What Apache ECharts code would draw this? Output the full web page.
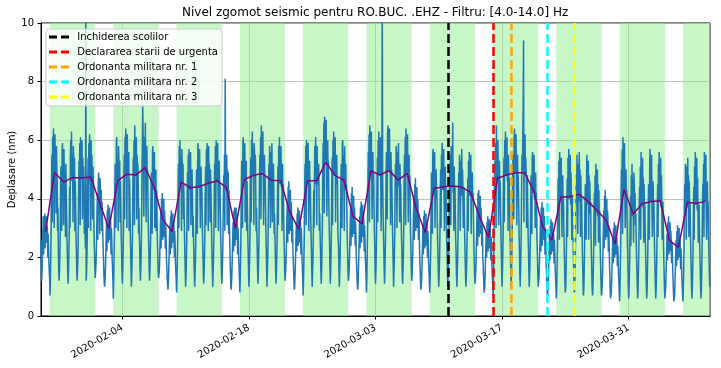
<!DOCTYPE html>
<html><head><meta charset="utf-8">
<script src="https://cdn.jsdelivr.net/npm/echarts@6/dist/echarts.min.js"></script>
<style>html,body{margin:0;padding:0;background:#fff}#c{width:721px;height:368px}</style>
</head><body><div id="c"></div>
<script>
// ---------------- data ----------------
const startDate = '2020-01-26';
const endDate = '2020-04-09';
const tickDates = ['2020-02-04', '2020-02-18', '2020-03-03', '2020-03-17', '2020-03-31'];
const yTicks = [0, 2, 4, 6, 8, 10];
// displacement (nm), hourly (UTC 00..23), one row per day starting 2020-01-26
const noiseByDay = [
  [2.6,1.4,1.2,1.6,2.2,2.9,3.4,2.1,3.3,2.8,3.5,2.3,3.2,3.0,3.4,2.5,3.1,2.9,2.0,2.8,2.4,1.8,1.5,1.2],
  [0.7,1.3,2.1,3.0,4.6,5.5,3.2,6.1,5.0,6.4,4.8,3.0,5.7,6.2,4.9,5.3,3.5,5.8,5.0,4.6,2.9,3.7,2.3,1.6],
  [1.2,1.5,2.0,2.8,4.3,5.1,4.5,2.9,5.6,5.9,4.4,5.3,3.1,5.7,4.6,5.0,4.4,2.7,5.2,4.2,3.4,2.6,2.1,1.5],
  [1.1,1.5,2.1,2.9,4.4,3.0,5.4,6.0,4.8,6.3,4.6,5.5,4.9,3.2,5.8,5.2,4.7,5.4,2.9,4.6,3.6,2.7,2.2,1.5],
  [1.2,1.6,2.0,2.8,4.5,5.3,4.6,5.9,3.1,6.1,4.7,5.6,4.9,6.0,3.3,5.4,4.8,5.1,4.4,2.8,3.7,2.9,2.3,10.6],
  [1.2,1.5,2.1,2.9,4.4,5.4,3.0,5.9,4.9,6.2,4.6,5.3,2.9,6.0,4.8,5.5,4.7,3.3,5.1,4.5,3.5,2.7,2.2,1.6],
  [1.3,1.5,1.8,2.3,3.0,3.8,4.2,2.6,4.6,4.9,3.9,4.4,2.8,4.7,4.1,3.7,4.3,2.9,3.9,3.4,2.8,2.3,1.9,1.4],
  [1.1,1.0,1.2,1.6,2.1,2.7,3.2,2.2,3.6,3.1,3.8,2.5,3.5,3.3,3.7,2.6,3.4,3.1,2.1,3.0,2.6,1.9,1.6,1.2],
  [0.6,1.2,2.0,2.8,4.4,5.2,4.6,3.0,5.9,6.1,4.6,5.4,4.8,2.9,5.8,5.0,4.6,5.3,3.2,4.6,3.6,2.7,2.2,1.5],
  [1.1,1.5,2.1,3.0,4.6,5.5,3.3,6.1,5.0,6.4,4.8,5.7,3.0,6.2,4.9,5.4,4.8,5.6,2.9,4.7,3.8,2.9,2.3,1.6],
  [1.0,1.5,2.1,2.9,4.5,5.4,4.8,6.0,3.1,6.5,4.8,5.6,5.0,6.1,3.3,5.5,4.9,5.2,4.6,2.8,3.7,2.8,2.3,1.6],
  [1.2,1.6,2.2,3.1,4.8,5.7,7.2,6.3,5.2,3.4,5.0,6.1,5.3,6.6,4.9,3.2,5.2,5.8,4.8,5.0,3.9,3.0,2.4,1.7],
  [1.2,1.5,2.0,2.7,4.1,4.9,4.3,2.8,5.6,5.8,4.3,5.2,4.5,5.6,3.0,4.9,4.4,5.0,2.9,4.3,3.4,2.6,2.1,1.5],
  [1.3,1.3,1.5,1.9,2.5,3.2,3.6,2.3,4.0,3.4,4.2,2.6,3.8,3.5,4.0,2.7,3.6,3.3,2.3,3.1,2.7,2.0,1.7,1.3],
  [1.1,0.9,1.1,1.5,2.0,2.6,3.1,2.1,3.4,3.0,3.6,2.3,3.3,3.1,3.5,2.5,3.2,3.0,2.0,2.9,2.5,1.8,1.5,1.2],
  [0.8,1.3,2.0,2.8,4.3,5.2,3.0,5.8,4.7,6.0,4.5,5.4,4.7,2.9,5.7,5.1,4.6,5.2,3.3,4.5,3.5,2.7,2.1,1.5],
  [1.0,1.4,1.9,2.7,4.1,4.9,4.3,5.5,2.9,5.7,4.3,5.2,4.5,5.6,3.1,4.9,4.4,5.0,4.1,2.7,3.4,2.6,2.0,1.4],
  [1.0,1.4,1.9,2.7,4.1,5.0,4.2,2.8,5.4,5.9,4.4,5.3,4.5,5.7,4.2,3.0,4.5,5.1,4.0,4.4,3.3,2.6,2.1,1.4],
  [1.1,1.5,2.0,2.8,4.2,5.1,3.1,5.7,4.6,5.9,4.5,5.4,2.9,5.8,4.6,5.2,4.5,3.2,5.0,4.4,3.5,2.7,2.1,1.5],
  [1.0,1.5,2.0,2.8,4.3,5.2,4.5,5.8,3.0,6.0,4.6,5.5,4.7,5.9,4.4,2.9,4.7,5.3,4.2,4.5,3.5,2.7,2.2,1.5],
  [1.1,1.4,1.9,2.6,4.0,4.8,4.2,5.5,2.9,8.1,4.3,5.2,4.5,5.5,3.1,5.0,4.4,4.9,2.8,4.3,3.3,2.6,2.0,1.4],
  [1.0,0.9,1.2,1.6,2.1,2.7,3.2,2.2,3.6,3.1,3.7,2.4,3.5,3.3,3.7,2.6,3.3,3.1,2.1,3.0,2.6,1.9,1.6,1.2],
  [0.8,1.3,2.0,2.9,4.4,5.3,4.6,3.0,5.9,6.1,4.6,5.5,4.8,5.9,3.2,5.1,4.7,5.3,2.9,4.6,3.6,2.8,2.2,1.5],
  [1.0,1.5,2.1,3.0,4.5,5.4,3.2,6.0,4.9,6.3,4.8,5.7,5.0,3.1,5.9,5.4,4.8,5.5,4.5,2.9,3.7,2.9,2.3,1.6],
  [1.1,1.5,2.1,3.0,4.6,5.5,4.8,6.1,3.3,6.5,4.9,5.8,5.0,6.3,4.8,3.1,4.9,5.5,4.6,4.8,3.8,2.9,2.3,1.6],
  [1.0,1.5,2.0,2.8,4.3,5.2,4.5,5.8,4.7,3.0,4.6,5.6,4.8,5.9,3.2,5.2,4.6,5.2,4.3,2.8,3.5,2.7,2.2,1.5],
  [1.1,1.5,2.0,2.8,4.3,5.1,3.1,5.8,4.7,6.1,4.5,5.5,4.7,5.8,4.4,5.1,2.9,5.2,4.3,4.5,3.5,2.7,2.2,1.5],
  [1.2,1.4,1.7,2.1,2.8,3.5,3.9,2.5,4.4,3.7,4.6,2.8,4.1,3.8,4.3,2.9,3.9,3.6,2.5,3.4,2.9,2.1,1.8,1.4],
  [1.0,0.9,1.2,1.6,2.1,2.7,3.2,2.2,3.5,3.1,3.7,2.4,3.4,3.2,3.6,2.5,3.3,3.1,2.1,3.0,2.6,1.9,1.6,1.2],
  [0.7,1.2,2.0,2.8,4.3,5.2,4.6,5.8,3.1,6.0,4.6,5.4,4.7,5.9,4.4,2.9,4.6,5.3,4.3,4.5,3.5,2.7,2.2,1.5],
  [1.0,1.5,2.0,2.8,4.3,3.0,4.7,5.8,4.7,6.1,4.5,5.5,3.1,5.8,4.5,5.1,4.6,5.2,4.2,2.9,3.5,2.7,2.2,1.5],
  [1.1,1.6,2.3,3.2,4.9,5.9,5.2,6.6,3.5,6.8,5.3,6.3,5.5,6.7,5.1,3.4,5.4,6.0,5.0,5.3,4.0,3.1,2.5,1.7],
  [1.1,1.5,2.1,3.0,4.5,5.4,3.1,6.0,4.9,6.3,4.8,5.8,4.9,6.1,3.2,5.4,4.8,5.5,4.5,4.7,2.9,2.9,2.3,1.6],
  [1.0,1.5,2.0,2.8,4.3,5.2,4.5,3.0,5.9,6.0,4.6,5.5,4.7,2.9,5.8,5.1,4.7,5.2,4.3,4.5,3.5,2.7,2.2,1.5],
  [1.2,1.3,1.6,2.0,2.6,3.3,3.7,2.4,4.2,3.5,4.4,2.7,3.9,3.6,4.1,2.8,3.7,3.4,2.4,3.2,2.8,2.0,1.7,1.3],
  [1.0,0.9,1.2,1.7,2.2,2.8,3.4,2.3,3.7,3.2,3.9,2.5,3.6,3.4,3.8,2.7,3.5,3.2,2.2,3.1,2.7,2.0,1.7,1.3],
  [0.8,1.3,2.1,3.0,4.6,5.6,4.9,6.2,3.2,6.5,4.9,5.9,5.1,6.3,4.9,3.3,5.0,5.6,4.7,4.9,3.8,2.9,2.4,1.6],
  [1.1,1.5,2.1,3.0,4.5,5.4,3.2,6.0,4.9,6.3,4.8,5.7,5.0,6.1,4.6,2.9,4.8,5.5,10.8,4.7,3.7,2.9,2.3,1.6],
  [1.1,1.6,2.2,3.1,4.7,5.6,4.9,3.3,6.2,6.5,5.0,5.9,5.1,6.4,4.9,5.4,3.1,5.6,4.7,5.0,3.9,3.0,2.4,1.7],
  [1.0,1.5,2.0,2.8,4.3,5.2,4.6,5.8,4.7,3.0,4.6,5.6,4.8,5.9,4.4,5.1,3.2,5.2,4.3,4.5,3.5,2.7,2.2,1.5],
  [1.1,1.5,2.1,3.0,4.6,5.5,4.8,6.1,3.1,6.4,4.9,5.8,5.0,6.2,4.7,3.2,4.9,5.5,4.6,4.8,3.8,2.9,2.3,1.6],
  [1.2,1.4,1.7,2.2,2.9,3.6,4.0,2.6,4.5,3.8,4.7,2.9,4.2,3.9,4.4,3.0,4.0,3.7,2.6,3.5,3.0,2.2,1.8,1.4],
  [1.0,0.9,1.1,1.5,2.0,2.6,3.1,2.1,3.4,3.0,3.6,2.3,3.3,3.1,3.5,2.4,3.2,2.9,2.0,2.9,2.5,1.8,1.5,1.2],
  [0.8,1.2,1.9,2.6,4.0,4.9,4.2,2.8,5.5,5.7,4.3,5.1,4.4,5.6,3.0,4.9,4.3,5.0,4.0,4.3,3.3,2.5,2.0,1.4],
  [1.0,1.4,1.9,2.7,4.1,5.0,3.0,5.5,4.4,5.9,4.3,5.3,4.5,5.7,4.2,2.9,4.5,5.1,4.1,4.4,3.3,2.6,2.1,1.4],
  [1.0,1.4,1.9,2.7,4.1,5.0,4.3,5.5,3.1,5.8,4.4,5.3,4.6,6.6,4.2,5.0,2.9,5.1,4.1,4.4,3.4,2.6,2.1,1.4],
  [1.0,1.4,1.9,2.7,4.1,4.9,4.3,5.5,4.4,2.9,4.3,5.3,4.5,5.7,4.1,5.0,4.4,3.0,4.1,4.4,3.3,2.6,2.0,1.4],
  [1.0,1.3,1.8,2.6,3.9,4.7,2.9,5.3,4.2,5.6,4.1,5.1,4.3,5.5,2.8,4.8,4.2,4.9,3.9,4.2,3.2,2.5,2.0,1.4],
  [1.1,1.2,1.5,1.9,2.6,3.3,3.7,2.4,4.2,3.5,4.3,2.7,3.9,3.6,4.1,2.8,3.7,3.4,2.4,3.2,2.8,2.0,1.7,1.3],
  [0.9,0.8,1.0,1.4,1.9,2.4,2.9,2.0,3.2,2.8,3.4,2.2,3.1,2.9,3.3,2.3,3.0,2.8,1.9,2.7,2.3,1.7,1.4,1.1],
  [0.7,1.2,2.0,2.9,4.4,5.3,4.7,5.9,3.0,6.5,4.7,5.6,4.8,6.0,4.6,3.1,4.7,5.3,4.4,4.6,3.6,2.8,2.2,1.5],
  [1.0,1.5,2.1,3.0,4.5,5.4,3.2,6.0,4.9,6.3,4.8,5.7,5.0,6.1,4.6,5.4,2.9,5.5,4.5,4.7,3.7,2.9,2.3,1.6],
  [1.0,1.5,2.1,3.0,4.6,5.5,4.9,3.3,6.1,6.4,4.9,5.8,5.0,6.2,4.8,3.1,4.9,5.5,4.6,4.8,3.8,2.9,2.3,1.6],
  [1.0,1.5,2.1,3.0,4.6,5.5,4.9,6.1,7.2,9.4,3.2,5.8,5.0,6.2,4.8,5.4,4.9,3.0,4.6,4.8,3.8,2.9,2.3,1.6],
  [1.0,1.3,1.8,2.6,3.9,4.8,4.1,2.8,5.4,5.6,4.2,5.1,4.3,5.5,4.0,4.8,3.0,4.9,3.9,4.2,3.2,2.5,2.0,1.4],
  [1.0,1.0,1.3,1.7,2.2,2.8,3.3,2.2,3.7,3.1,3.9,2.4,3.5,3.3,3.7,2.6,3.4,3.1,2.1,3.0,2.6,1.9,1.5,1.1],
  [0.8,0.7,0.9,1.3,1.8,2.3,2.8,1.9,3.1,2.7,3.3,2.1,3.0,2.8,3.2,2.2,2.9,2.7,1.8,2.6,2.2,1.6,1.3,1.0],
  [0.6,0.9,1.6,2.4,3.8,4.7,4.0,5.3,2.6,5.6,4.0,5.0,4.2,5.4,3.8,2.7,4.1,4.8,3.7,4.0,3.0,2.3,1.7,1.1],
  [0.8,1.0,1.6,2.4,3.8,4.7,2.7,5.4,4.1,5.7,4.0,5.1,4.2,5.5,3.8,4.9,4.1,2.6,3.7,4.1,3.0,2.3,1.7,1.1],
  [0.8,1.0,1.7,2.5,3.9,4.8,4.1,5.5,4.2,2.8,4.1,5.2,4.3,5.6,3.9,5.0,2.7,4.8,3.8,4.1,3.1,2.4,1.7,1.1],
  [0.7,0.9,1.5,2.3,3.7,4.5,3.8,2.6,4.0,5.5,3.8,5.0,4.0,5.3,2.6,4.8,3.9,4.6,3.5,3.9,2.9,2.2,1.6,1.0],
  [0.7,0.9,1.4,2.1,3.4,4.2,3.5,4.8,2.4,5.2,3.5,4.7,3.7,5.0,3.4,4.5,2.5,4.3,3.2,3.6,2.7,2.1,1.5,1.0],
  [0.7,0.8,1.1,1.6,2.3,3.1,3.6,2.3,4.1,3.4,4.3,2.6,3.8,3.5,4.0,2.7,3.6,3.3,2.2,3.1,2.6,1.9,1.4,0.9],
  [0.6,0.6,0.8,1.2,1.7,2.2,2.7,1.8,3.0,2.6,3.2,2.0,2.9,2.7,3.1,2.1,2.8,2.5,1.7,2.4,2.1,1.5,1.2,0.8],
  [0.5,0.9,1.7,2.6,4.0,5.0,4.3,5.7,2.8,6.1,4.3,5.4,4.5,5.9,4.1,3.0,4.3,5.0,3.9,4.3,3.2,2.4,1.8,1.1],
  [0.6,0.8,1.4,2.0,3.3,4.1,2.4,4.8,3.5,5.2,3.4,4.7,3.6,2.5,4.9,4.4,3.5,4.2,3.1,3.5,2.6,2.0,1.5,1.0],
  [0.6,0.9,1.5,2.2,3.6,4.4,3.7,5.1,2.6,5.6,3.8,5.0,4.0,5.4,3.7,4.7,2.5,4.5,3.5,3.8,2.8,2.2,1.6,1.0],
  [0.6,0.9,1.5,2.3,3.7,4.5,3.8,2.6,5.2,5.7,3.9,5.1,4.0,5.5,3.7,2.7,3.9,4.6,3.5,3.9,2.9,2.2,1.6,1.0],
  [0.6,0.9,1.5,2.3,3.7,4.5,2.7,5.2,3.9,5.6,3.9,5.1,4.1,5.4,3.7,4.8,3.9,2.6,3.5,3.9,2.9,2.2,1.6,1.0],
  [0.6,0.6,0.9,1.3,1.8,2.3,2.8,1.9,3.2,2.7,3.4,2.1,3.1,2.8,3.2,2.2,2.9,2.6,1.8,2.5,2.2,1.6,1.2,0.8],
  [0.5,0.5,0.7,1.1,1.6,2.1,2.6,1.7,2.9,2.5,3.1,1.9,2.8,2.6,3.0,2.0,2.7,2.4,1.6,2.3,2.0,1.4,1.1,0.8],
  [0.5,0.8,1.5,2.3,3.7,4.5,3.8,5.2,3.9,2.6,3.9,5.1,4.0,5.4,3.7,4.8,2.7,4.6,3.5,3.9,2.9,2.2,1.6,1.0],
  [0.6,0.9,1.5,2.2,3.6,4.4,2.6,5.1,3.8,5.6,3.8,5.0,4.0,5.4,3.6,4.7,3.8,2.5,3.5,3.8,2.8,2.2,1.6,1.0],
  [0.6,0.9,1.5,2.3,3.7,4.5,3.8,5.2,2.7,5.6,3.9,5.1,4.0,5.5,3.7,2.6,3.9,4.6,3.5,3.9,2.9,2.2,1.6,1.0]
];
// daily median (nm), one per day starting 2020-01-26 (plotted at noon)
const dailyMedian = [
  2.88, 4.90, 4.57, 4.73, 4.71, 4.74, 3.86, 2.99,
  4.62, 4.84, 4.81, 5.07, 4.41, 3.28, 2.88,
  4.58, 4.38, 4.41, 4.53, 4.61, 4.39, 2.99,
  4.66, 4.80, 4.86, 4.63, 4.62, 3.57, 2.96,
  4.62, 4.62, 5.25, 4.80, 4.64, 3.41, 3.14,
  4.95, 4.81, 4.97, 4.64, 4.87, 3.67, 2.85,
  4.35, 4.41, 4.44, 4.40, 4.23, 3.40, 2.68,
  4.70, 4.81, 4.89, 4.89, 4.26, 3.05, 2.59,
  4.05, 4.08, 4.16, 3.92, 3.60, 3.28, 2.46,
  4.32, 3.48, 3.83, 3.91, 3.93, 2.59, 2.34,
  3.88, 3.84, 3.92
];
// working-week spans (green)
const workStarts = ['2020-01-27', '2020-02-03', '2020-02-10', '2020-02-17', '2020-02-24', '2020-03-02',
  '2020-03-09', '2020-03-16', '2020-03-23', '2020-03-30', '2020-04-06'];
const workEnds = ['2020-02-01', '2020-02-08', '2020-02-15', '2020-02-22', '2020-02-29', '2020-03-07',
  '2020-03-14', '2020-03-21', '2020-03-28', '2020-04-04', '2020-04-09'];
// events (vertical dashed lines)
const eventNames = ['Inchiderea scolilor', 'Declararea starii de urgenta', 'Ordonanta militara nr. 1',
  'Ordonanta militara nr. 2', 'Ordonanta militara nr. 3'];
const eventDates = ['2020-03-11', '2020-03-16', '2020-03-18', '2020-03-22', '2020-03-25'];
const eventColors = ['#000000', '#ff0000', '#ffa500', '#00ffff', '#ffff00'];

// ---------------- chart ----------------
const DAY = 86400000, HOUR = 3600000;
const ts = s => new Date(s + 'T00:00:00Z').getTime();
const t0 = ts(startDate);
const blueData = [];
noiseByDay.forEach((row, d) => row.forEach((v, h) => blueData.push([t0 + d * DAY + h * HOUR, v])));
const medianData = dailyMedian.map((v, d) => [t0 + d * DAY + 12 * HOUR, v]);
const pad = n => (n < 10 ? '0' : '') + n;
const fmt = v => { const d = new Date(v); return d.getUTCFullYear() + '-' + pad(d.getUTCMonth() + 1) + '-' + pad(d.getUTCDate()); };
const FONT = 'DejaVu Sans';

const series = [
  {
    type: 'line', name: 'spans', data: [], silent: true, z: 1,
    markArea: { silent: true, itemStyle: { color: 'rgba(144,238,144,0.5)' },
      data: workStarts.map((s, i) => [{ xAxis: ts(s) }, { xAxis: ts(workEnds[i]) }]) }
  },
  {
    type: 'line', name: 'noise', data: blueData, showSymbol: false, symbol: 'none', z: 3,
    lineStyle: { color: '#1f77b4', width: 1.5 }, itemStyle: { color: '#1f77b4' }
  },
  {
    type: 'line', name: 'median', data: medianData, showSymbol: false, symbol: 'none', z: 4,
    lineStyle: { color: '#800080', width: 1.5 }, itemStyle: { color: '#800080' }
  }
];
eventNames.forEach((n, i) => series.push({
  type: 'line', name: n, data: [], z: 5,
  itemStyle: { color: eventColors[i] }, lineStyle: { color: eventColors[i] },
  markLine: { silent: true, symbol: ['none', 'none'], label: { show: false },
    lineStyle: { color: eventColors[i], type: [9, 4], width: 2.5 },
    data: [{ xAxis: ts(eventDates[i]) }] }
}));

const tickTs = tickDates.map(ts);
const chart = echarts.init(document.getElementById('c'), null, { renderer: 'canvas' });
chart.setOption({
  animation: false,
  textStyle: { fontFamily: FONT },
  title: {
    text: 'Nivel zgomot seismic pentru RO.BUC. .EHZ - Filtru: [4.0-14.0] Hz',
    left: 182, top: 6, padding: 0,
    textStyle: { fontFamily: FONT, fontSize: 12, fontWeight: 'normal', color: '#000', lineHeight: 14 }
  },
  legend: {
    data: eventNames.map(n => ({ name: n, icon: 'path://M0 0H8V3H0Z M12 0H20V3H12Z' })),
    orient: 'vertical', left: 46, top: 29, itemWidth: 20, itemHeight: 3, itemGap: 3,
    padding: [2, 4, 3, 3], backgroundColor: 'rgba(255,255,255,0.8)', borderColor: '#cccccc',
    borderWidth: 1, borderRadius: 3, selectedMode: false,
    formatter: n => ' ' + n,
    textStyle: { fontFamily: FONT, fontSize: 10, color: '#000', lineHeight: 12 }
  },
  grid: { left: 41, right: 11, top: 23, bottom: 52, containLabel: false, outerBoundsMode: 'none',
    show: true, borderColor: '#000', borderWidth: 1, backgroundColor: 'transparent' },
  xAxis: {
    type: 'value', min: ts(startDate), max: ts(endDate),
    axisLine: { show: true, lineStyle: { color: '#000', width: 1 } },
    axisTick: { show: true, length: 3.5, customValues: tickTs, lineStyle: { color: '#000' } },
    axisLabel: { customValues: tickTs, formatter: v => fmt(v), rotate: 30, margin: 11,
      fontFamily: FONT, fontSize: 10, color: '#000' },
    splitLine: { show: true, lineStyle: { color: '#b0b0b0', width: 0.8 } }
  },
  yAxis: {
    type: 'value', min: 0, max: 10, interval: 2,
    name: 'Deplasare (nm)', nameLocation: 'middle', nameGap: 24, nameRotate: 90, nameMoveOverlap: false,
    nameTextStyle: { fontFamily: FONT, fontSize: 10, color: '#000' },
    axisLine: { show: true, lineStyle: { color: '#000', width: 1 } },
    axisTick: { show: true, length: 3.5, lineStyle: { color: '#000' } },
    axisLabel: { margin: 7, fontFamily: FONT, fontSize: 10, color: '#000', formatter: v => yTicks.includes(v) ? String(v) : '' },
    splitLine: { show: true, lineStyle: { color: '#b0b0b0', width: 0.8 } }
  },
  series: series
});
</script></body></html>
